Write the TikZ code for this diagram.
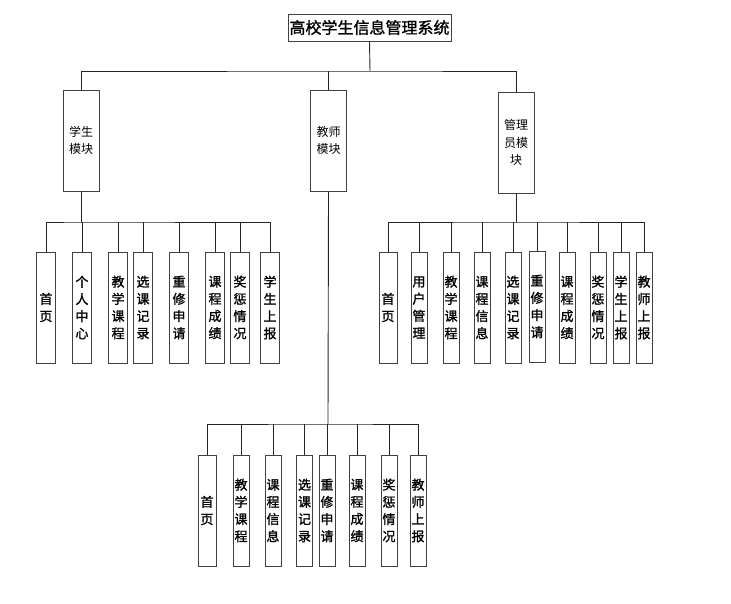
\documentclass[tikz,border=0pt]{standalone}
\usepackage{fontspec}
\newfontfamily\cjk{Noto Sans CJK SC}
\newfontfamily\cjkb[FakeBold=1.3]{Noto Sans CJK SC}
\begin{document}
\begin{tikzpicture}[x=1pt,y=-1pt,
  box/.style={draw=black!75,line width=0.9pt,fill=white,inner sep=0pt,align=center},
  leaf/.style={box,minimum width=16pt,minimum height=111pt,font=\cjkb\fontsize{13}{17.2}\selectfont},
  wleaf/.style={leaf,minimum width=19pt},
  mod/.style={box,minimum width=36pt,minimum height=101pt,font=\cjk\fontsize{12}{17.5}\selectfont},
  link/.style={line width=0.9pt,black!85}]
\useasboundingbox (0,0) rectangle (731,604);

% root
\node[box,minimum width=163pt,minimum height=27pt,font=\cjkb\fontsize{16}{18}\selectfont] (root) at (369.5,27.5) {高校学生信息管理系统};

% modules
\node[mod] (stu) at (81,140.5) {学生\\模块};
\node[mod] (tea) at (328.5,140.5) {教师\\模块};
\node[mod] (adm) at (516,142.5) {管理\\员模\\块};

% bus coordinates
\coordinate (j0) at (370,71);
\coordinate (js) at (81,222);
\coordinate (ja) at (516,222);
\coordinate (jt) at (328,424);

% student leaves
\node[wleaf] (s1) at (46,307.5) {首\\页};
\node[wleaf] (s2) at (82,307.5) {个\\人\\中\\心};
\node[wleaf] (s3) at (118,307.5) {教\\学\\课\\程};
\node[wleaf] (s4) at (143,307.5) {选\\课\\记\\录};
\node[wleaf] (s5) at (179,307.5) {重\\修\\申\\请};
\node[wleaf] (s6) at (215,307.5) {课\\程\\成\\绩};
\node[wleaf] (s7) at (240,307.5) {奖\\惩\\情\\况};
\node[wleaf] (s8) at (270,307.5) {学\\生\\上\\报};

% admin leaves
\node[leaf,minimum width=18pt] (a1) at (388,307.5) {首\\页};
\node[leaf] (a2) at (419,307.5) {用\\户\\管\\理};
\node[leaf] (a3) at (451,307.5) {教\\学\\课\\程};
\node[leaf] (a4) at (482,307.5) {课\\程\\信\\息};
\node[leaf] (a5) at (513,307.5) {选\\课\\记\\录};
\node[leaf] (a6) at (537,306.5) {重\\修\\申\\请};
\node[leaf] (a7) at (567,307.5) {课\\程\\成\\绩};
\node[leaf] (a8) at (598,307.5) {奖\\惩\\情\\况};
\node[leaf] (a9) at (621,307.5) {学\\生\\上\\报};
\node[leaf] (a10) at (644,307.5) {教\\师\\上\\报};

% teacher leaves
\node[leaf,minimum width=18pt] (t1) at (207,510.5) {首\\页};
\node[leaf] (t2) at (241,510.5) {教\\学\\课\\程};
\node[leaf] (t3) at (273,510.5) {课\\程\\信\\息};
\node[leaf] (t4) at (304.5,510.5) {选\\课\\记\\录};
\node[leaf] (t5) at (327,510.5) {重\\修\\申\\请};
\node[leaf] (t6) at (357,510.5) {课\\程\\成\\绩};
\node[leaf] (t7) at (389,510.5) {奖\\惩\\情\\况};
\node[leaf] (t8) at (418,510.5) {教\\师\\上\\报};

% top level connectors
\draw[link] (root.south) -- (j0);
\draw[link] (stu.north) |- (j0) -| (adm.north);
\draw[link] (tea.north) -- (tea.north |- j0);

% student connectors
\draw[link] (stu.south) -- (js);
\draw[link] (s1.north) |- (js) -| (s8.north);
\foreach \i in {2,...,7} \draw[link] (s\i.north) -- (s\i.north |- js);

% admin connectors
\draw[link] (adm.south) -- (ja);
\draw[link] (a1.north) |- (ja) -| (a10.north);
\foreach \i in {2,...,9} \draw[link] (a\i.north) -- (a\i.north |- ja);

% teacher connectors
\draw[link] (tea.south) -- (jt);
\draw[link] (t1.north) |- (jt) -| (t8.north);
\foreach \i in {2,...,7} \draw[link] (t\i.north) -- (t\i.north |- jt);
\end{tikzpicture}
\end{document}
